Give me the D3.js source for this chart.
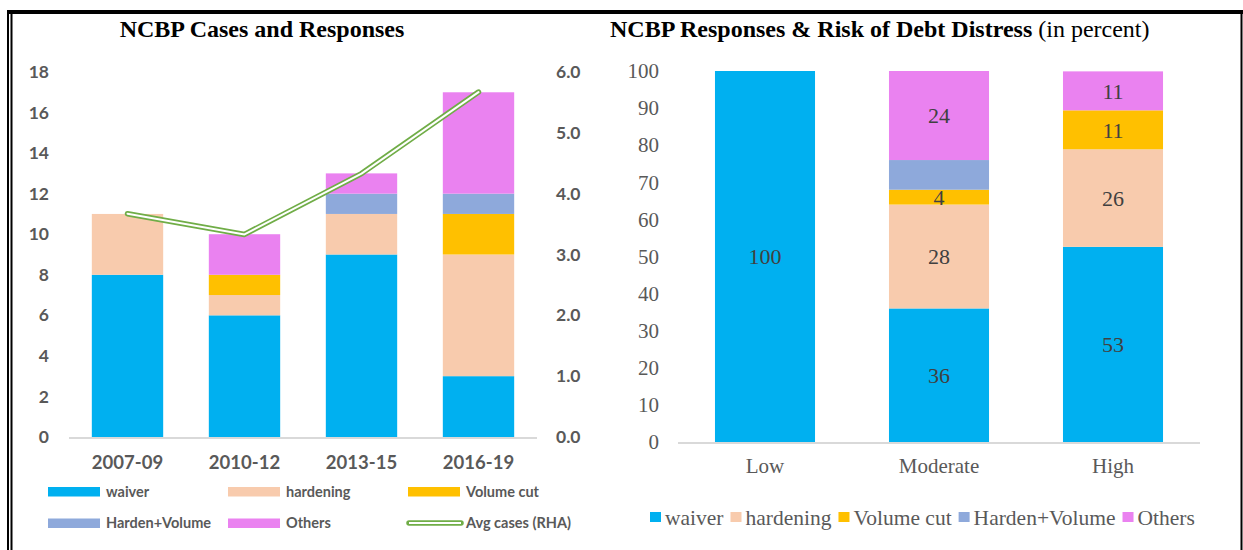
<!DOCTYPE html>
<html>
<head>
<meta charset="utf-8">
<script src="https://cdn.jsdelivr.net/npm/d3@7"></script>
<style>
  body { margin: 0; background: #fff; }
  svg { display: block; }
</style>
</head>
<body>
<script>
// left panel data: cases per period
const periods = ["2007-09", "2010-12", "2013-15", "2016-19"];
const seriesNames = ["waiver", "hardening", "Volume cut", "Harden+Volume", "Others"];
const waiverCases = [8, 6, 9, 3];
const hardeningCases = [3, 1, 2, 6];
const volumeCutCases = [0, 1, 0, 2];
const hardenVolumeCases = [0, 0, 1, 1];
const otherCases = [0, 2, 1, 5];
const avgCases = [3.67, 3.33, 4.33, 5.67];
const caseTicks = [0, 2, 4, 6, 8, 10, 12, 14, 16, 18];
const avgTicks = [0, 1, 2, 3, 4, 5, 6];

// right panel data: percent by risk rating
const riskLevels = ["Low", "Moderate", "High"];
const waiverPct = [100, 36, 52.6];
const hardeningPct = [0, 28, 26.3];
const volumeCutPct = [0, 4, 10.5];
const hardenVolumePct = [0, 8, 0];
const otherPct = [0, 24, 10.5];
const pctTicks = [0, 10, 20, 30, 40, 50, 60, 70, 80, 90, 100];

const colors = ["#00B0F0", "#F8CBAD", "#FFC000", "#8EA9DB", "#EA82F0"];
const sans = "Lato, 'Open Sans', sans-serif";
const serif = "'Liberation Serif', 'Times New Roman', serif";
const grey = "#595959";

const svg = d3.select("body").append("svg")
    .attr("width", 1243)
    .attr("height", 550);

// frame
svg.append("rect").attr("x", 7).attr("y", 10).attr("width", 1236).attr("height", 4).attr("fill", "#000");
svg.append("rect").attr("x", 7).attr("y", 10).attr("width", 2).attr("height", 540).attr("fill", "#000");
svg.append("rect").attr("x", 10.5).attr("y", 12).attr("width", 2).attr("height", 538).attr("fill", "#000");
svg.append("rect").attr("x", 1240.5).attr("y", 10).attr("width", 2).attr("height", 540).attr("fill", "#000");

// ---------- left chart ----------
const left = svg.append("g");

left.append("text")
    .attr("x", 262).attr("y", 36.5)
    .attr("text-anchor", "middle")
    .style("font-family", serif).style("font-weight", "bold").style("font-size", "24px")
    .text("NCBP Cases and Responses");

const x1 = d3.scaleBand().domain(periods).range([69, 537]).paddingInner(0.39).paddingOuter(0.195);
const y1 = d3.scaleLinear().domain([0, 18]).range([437, 72]);
const y1r = d3.scaleLinear().domain([0, 6]).range([437, 72]);

const caseRows = periods.map((p, i) => ({
  period: p,
  "waiver": waiverCases[i],
  "hardening": hardeningCases[i],
  "Volume cut": volumeCutCases[i],
  "Harden+Volume": hardenVolumeCases[i],
  "Others": otherCases[i]
}));
const caseStack = d3.stack().keys(seriesNames)(caseRows);

left.selectAll("g.series")
  .data(caseStack)
  .join("g")
    .attr("fill", (d, i) => colors[i])
  .selectAll("rect")
  .data(d => d)
  .join("rect")
    .attr("x", d => x1(d.data.period))
    .attr("width", x1.bandwidth())
    .attr("y", d => y1(d[1]))
    .attr("height", d => y1(d[0]) - y1(d[1]));

left.append("line")
    .attr("x1", 69).attr("x2", 537)
    .attr("y1", y1(0) + 1).attr("y2", y1(0) + 1)
    .attr("stroke", "#D9D9D9").attr("stroke-width", 2);

const axL = left.append("g").attr("transform", "translate(49,0)")
    .call(d3.axisLeft(y1).tickValues(caseTicks).tickSize(0).tickPadding(0));
axL.select(".domain").remove();
axL.selectAll("text")
    .style("font-family", sans).style("font-weight", "bold").style("font-size", "17.5px")
    .attr("fill", grey);

const axR = left.append("g").attr("transform", "translate(556,0)")
    .call(d3.axisRight(y1r).tickValues(avgTicks).tickFormat(d3.format(".1f")).tickSize(0).tickPadding(0));
axR.select(".domain").remove();
axR.selectAll("text")
    .style("font-family", sans).style("font-weight", "bold").style("font-size", "17.5px")
    .attr("fill", grey);

const axB = left.append("g").attr("transform", "translate(0,437)")
    .call(d3.axisBottom(x1).tickSize(0).tickPadding(19));
axB.select(".domain").remove();
axB.selectAll("text")
    .style("font-family", sans).style("font-weight", "bold").style("font-size", "18.5px")
    .attr("fill", grey);

const avgLine = d3.line()
    .x((d, i) => x1(periods[i]) + x1.bandwidth() / 2)
    .y(d => y1r(d));
left.append("path").datum(avgCases)
    .attr("d", avgLine).attr("fill", "none")
    .attr("stroke", "#70AD47").attr("stroke-width", 5.5).attr("stroke-linejoin", "round").attr("stroke-linecap", "round");
left.append("path").datum(avgCases)
    .attr("d", avgLine).attr("fill", "none")
    .attr("stroke", "#fff").attr("stroke-width", 2).attr("stroke-linejoin", "round").attr("stroke-linecap", "round");

// left legend
const legItems = seriesNames.concat(["Avg cases (RHA)"]);
const legL = left.selectAll("g.leg")
  .data(legItems)
  .join("g")
    .attr("transform", (d, i) => `translate(${48 + (i % 3) * 180},${491.5 + Math.floor(i / 3) * 31.5})`);
legL.each(function(d, i) {
  const g = d3.select(this);
  if (i < 5) {
    g.append("rect").attr("x", 0).attr("y", -4.5).attr("width", 52).attr("height", 9.5).attr("fill", colors[i]);
  } else {
    g.append("line").attr("x1", 1).attr("x2", 53).attr("y1", 0).attr("y2", 0)
      .attr("stroke", "#70AD47").attr("stroke-width", 5.5).attr("stroke-linecap", "round");
    g.append("line").attr("x1", 1).attr("x2", 53).attr("y1", 0).attr("y2", 0)
      .attr("stroke", "#fff").attr("stroke-width", 2);
  }
  g.append("text").attr("x", 58).attr("y", 0).attr("dy", "0.35em")
    .style("font-family", sans).style("font-weight", "bold").style("font-size", "14.5px")
    .attr("fill", grey).text(d);
});

// ---------- right chart ----------
const right = svg.append("g");

const title2 = right.append("text")
    .attr("x", 610).attr("y", 36.5)
    .style("font-family", serif).style("font-size", "24px");
title2.append("tspan").style("font-weight", "bold").text("NCBP Responses & Risk of Debt Distress");
title2.append("tspan").text(" (in percent)");

const x2 = d3.scaleBand().domain(riskLevels).range([678, 1200]).paddingInner(0.425).paddingOuter(0.2125);
const y2 = d3.scaleLinear().domain([0, 100]).range([442, 71]);

const pctRows = riskLevels.map((r, i) => ({
  level: r,
  "waiver": waiverPct[i],
  "hardening": hardeningPct[i],
  "Volume cut": volumeCutPct[i],
  "Harden+Volume": hardenVolumePct[i],
  "Others": otherPct[i]
}));
const pctStack = d3.stack().keys(seriesNames)(pctRows);
const showLabel = [true, true, true, false, true];

const segs = right.selectAll("g.series")
  .data(pctStack)
  .join("g")
    .attr("fill", (d, i) => colors[i]);
segs.selectAll("rect")
  .data(d => d)
  .join("rect")
    .attr("x", d => x2(d.data.level))
    .attr("width", x2.bandwidth())
    .attr("y", d => y2(d[1]))
    .attr("height", d => y2(d[0]) - y2(d[1]));

pctStack.forEach((s, si) => {
  if (!showLabel[si]) return;
  right.selectAll(null)
    .data(s.filter(d => d[1] - d[0] > 0))
    .join("text")
      .attr("x", d => x2(d.data.level) + x2.bandwidth() / 2)
      .attr("y", d => y2((d[0] + d[1]) / 2))
      .attr("dy", "0.35em")
      .attr("text-anchor", "middle")
      .style("font-family", serif).style("font-size", "22px")
      .attr("fill", "#404040")
      .text(d => Math.round(d[1] - d[0]));
});

right.append("line")
    .attr("x1", 678).attr("x2", 1200)
    .attr("y1", y2(0) + 1).attr("y2", y2(0) + 1)
    .attr("stroke", "#D9D9D9").attr("stroke-width", 2);

const ax2 = right.append("g").attr("transform", "translate(659,0)")
    .call(d3.axisLeft(y2).tickValues(pctTicks).tickSize(0).tickPadding(0));
ax2.select(".domain").remove();
ax2.selectAll("text")
    .style("font-family", serif).style("font-size", "21px")
    .attr("fill", grey);

const ax2b = right.append("g").attr("transform", "translate(0,442)")
    .call(d3.axisBottom(x2).tickSize(0).tickPadding(16));
ax2b.select(".domain").remove();
ax2b.selectAll("text")
    .style("font-family", serif).style("font-size", "21px")
    .attr("fill", grey);

// right legend, laid out in a row
let lx = 650;
seriesNames.forEach((name, i) => {
  const g = right.append("g").attr("transform", `translate(${lx},517)`);
  g.append("rect").attr("x", 0).attr("y", -5).attr("width", 11).attr("height", 10).attr("fill", colors[i]);
  const t = g.append("text").attr("x", 15).attr("y", 0).attr("dy", "0.35em")
    .style("font-family", serif).style("font-size", "21.5px")
    .attr("fill", grey).text(name);
  lx += 15 + t.node().getComputedTextLength() + 7;
});
</script>
</body>
</html>
